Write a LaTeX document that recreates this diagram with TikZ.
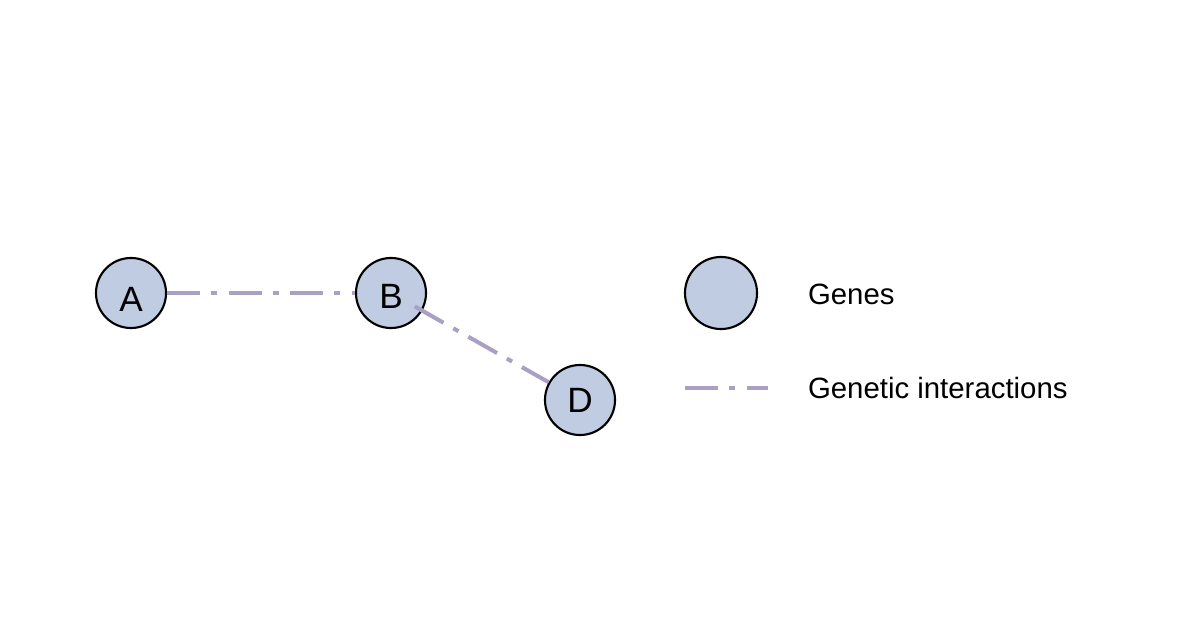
\documentclass[tikz,border=0pt]{standalone}
\usepackage{fontspec}
\setmainfont{Liberation Sans}
\usepackage{xcolor}
\usetikzlibrary{positioning}

\definecolor{genefill}{RGB}{191,204,226}
\definecolor{gilink}{RGB}{170,160,196}

\begin{document}
\begin{tikzpicture}[x=0.01cm, y=-0.01cm, semithick,
  gene/.style={circle, draw=black, line width=0.6pt, fill=genefill, minimum size=0.7cm, inner sep=0pt, font=\fontsize{10}{12}\selectfont},
  gilink/.style={draw=gilink, line width=1.15pt, dash pattern=on 9.4pt off 3.2pt on 1.7pt off 3.2pt},
  legtext/.style={anchor=west, inner sep=0pt, font=\fontsize{8.35}{10}\selectfont}]
\useasboundingbox (0,0) rectangle (1204,637);

\node [gene, text height=10.6pt, text depth=0pt] (A) at (131,293) {A};
\node [gene, text height=8.9pt, text depth=0pt] (B) at (391,293) {B};
\node [gene] (D) at (580,400) {D};

% legend
\node [gene, minimum size=0.72cm] (lgene) at (721,293) {};
\coordinate (lfrom) at (685,388);
\coordinate (lto) at (768,388);
\node [legtext] (tgene) at (807,294) {Genes};
\node [legtext] (tlink) at (807,388) {Genetic interactions};

\path
(A) edge [gilink] (B)
(B) edge [gilink, shorten <=-2.5pt] (D)
(lfrom) edge [gilink] (lto);

\end{tikzpicture}
\end{document}
